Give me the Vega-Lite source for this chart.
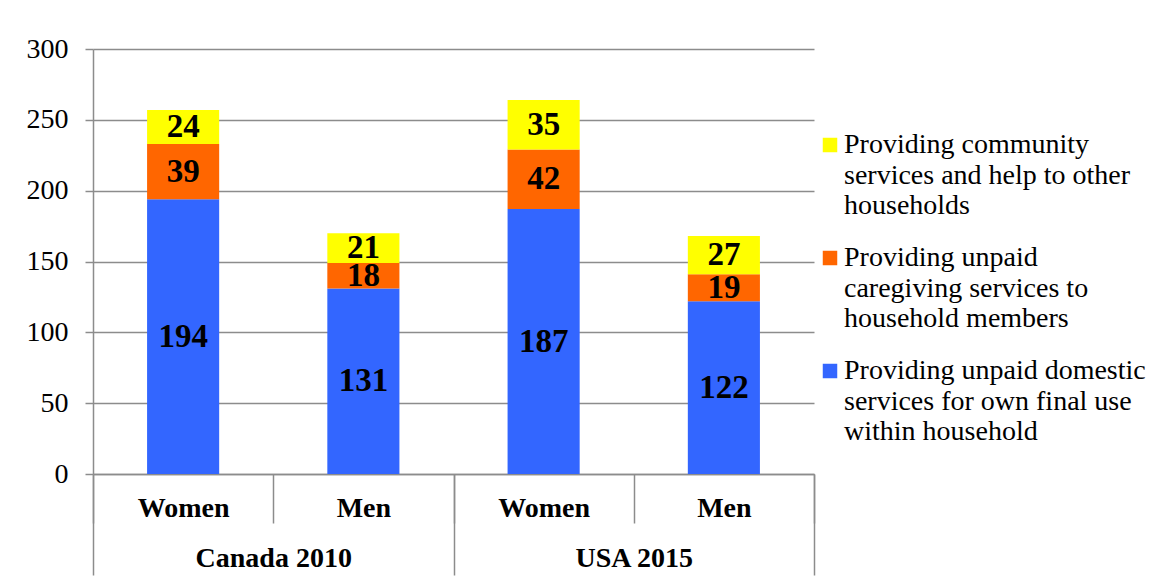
{
  "$schema": "https://vega.github.io/schema/vega-lite/v6.json",
  "width": 721,
  "height": 425,
  "autosize": {"type": "none"},
  "padding": {"left": 93, "top": 49, "right": 359, "bottom": 106},
  "background": "white",
  "config": {
    "font": "Liberation Serif",
    "view": {"stroke": null},
    "style": {"guide-label": {"lineHeight": 30.5, "font": "Liberation Serif"}}
  },
  "data": {
    "values": [
      {"bar": "Canada 2010|Women", "group": "Canada 2010", "series": "Providing unpaid domestic services for own final use within household", "value": 194},
      {"bar": "Canada 2010|Women", "group": "Canada 2010", "series": "Providing unpaid caregiving services to household members", "value": 39},
      {"bar": "Canada 2010|Women", "group": "Canada 2010", "series": "Providing community services and help to other households", "value": 24},
      {"bar": "Canada 2010|Men", "group": "Canada 2010", "series": "Providing unpaid domestic services for own final use within household", "value": 131},
      {"bar": "Canada 2010|Men", "group": "Canada 2010", "series": "Providing unpaid caregiving services to household members", "value": 18},
      {"bar": "Canada 2010|Men", "group": "Canada 2010", "series": "Providing community services and help to other households", "value": 21},
      {"bar": "USA 2015|Women", "group": "USA 2015", "series": "Providing unpaid domestic services for own final use within household", "value": 187},
      {"bar": "USA 2015|Women", "group": "USA 2015", "series": "Providing unpaid caregiving services to household members", "value": 42},
      {"bar": "USA 2015|Women", "group": "USA 2015", "series": "Providing community services and help to other households", "value": 35},
      {"bar": "USA 2015|Men", "group": "USA 2015", "series": "Providing unpaid domestic services for own final use within household", "value": 122},
      {"bar": "USA 2015|Men", "group": "USA 2015", "series": "Providing unpaid caregiving services to household members", "value": 19},
      {"bar": "USA 2015|Men", "group": "USA 2015", "series": "Providing community services and help to other households", "value": 27}
    ]
  },
  "layer": [
    {
      "layer": [
        {
          "mark": {"type": "bar", "width": {"band": 0.4}},
          "encoding": {
            "x": {
              "field": "bar", "type": "nominal", "sort": null,
              "scale": {"paddingInner": 0, "paddingOuter": 0},
              "axis": {
                "orient": "bottom", "title": null,
                "labelExpr": "split(datum.label, '|')[1]",
                "labelAngle": 0, "labelFontSize": 28, "labelFontWeight": "bold",
                "labelColor": "black", "labelBaseline": "middle", "labelPadding": -15,
                "tickBand": "extent", "tickSize": 49, "tickColor": "#8c8c8c", "tickWidth": 1.5,
                "domainColor": "#8c8c8c", "domainWidth": 1.5, "grid": false
              }
            },
            "y": {
              "field": "value", "type": "quantitative", "stack": "zero",
              "scale": {"domain": [0, 300]},
              "axis": {
                "title": null, "values": [0, 50, 100, 150, 200, 250, 300],
                "grid": true, "gridColor": "#8c8c8c", "gridWidth": 1.5,
                "tickSize": 8, "tickColor": "#8c8c8c", "tickWidth": 1.5,
                "domainColor": "#8c8c8c", "domainWidth": 1.5,
                "labelFontSize": 28, "labelColor": "black", "labelPadding": 17
              }
            },
            "color": {
              "field": "series", "type": "nominal",
              "scale": {
                "domain": [
                  "Providing community services and help to other households",
                  "Providing unpaid caregiving services to household members",
                  "Providing unpaid domestic services for own final use within household"
                ],
                "range": ["#FFFF00", "#FF6600", "#3366FF"]
              },
              "legend": {
                "title": null, "orient": "none", "legendX": 723, "legendY": 82,
                "symbolType": "square", "symbolSize": 210, "symbolStrokeWidth": 0,
                "labelFont": "Liberation Serif",
                "labelFontSize": 28, "labelColor": "black", "labelLimit": 400,
                "labelOffset": 0, "rowPadding": 24, "padding": 0,
                "labelBaseline": "middle",
                "labelExpr": "indexof(datum.label, 'community') >= 0 ? ['Providing community', 'services and help to other', 'households'] : indexof(datum.label, 'caregiving') >= 0 ? ['Providing unpaid', 'caregiving services  to', 'household members'] : ['Providing unpaid domestic', 'services for own final use', 'within household']"
              }
            },
            "order": {"field": "series", "sort": "descending"}
          }
        },
        {
          "mark": {"type": "text", "fontSize": 33, "fontWeight": "bold", "color": "black", "baseline": "middle"},
          "encoding": {
            "x": {"field": "bar", "type": "nominal", "sort": null},
            "y": {"field": "value", "type": "quantitative", "stack": "zero", "bandPosition": 0.5},
            "detail": {"field": "series"},
            "order": {"field": "series", "sort": "descending"},
            "text": {"field": "value"}
          }
        }
      ]
    },
    {
      "mark": {"type": "point", "opacity": 0},
      "encoding": {
        "x": {
          "field": "group", "type": "nominal", "sort": null,
          "scale": {"type": "band", "paddingInner": 0, "paddingOuter": 0},
          "axis": {
            "orient": "bottom", "title": null, "labelAngle": 0,
            "labelFontSize": 28, "labelFontWeight": "bold", "labelColor": "black",
            "labelBaseline": "middle", "labelPadding": -17,
            "tickBand": "extent", "tickSize": 101, "tickColor": "#8c8c8c", "tickWidth": 1.5,
            "domain": false, "grid": false
          }
        }
      }
    }
  ],
  "resolve": {"scale": {"x": "independent"}}
}
